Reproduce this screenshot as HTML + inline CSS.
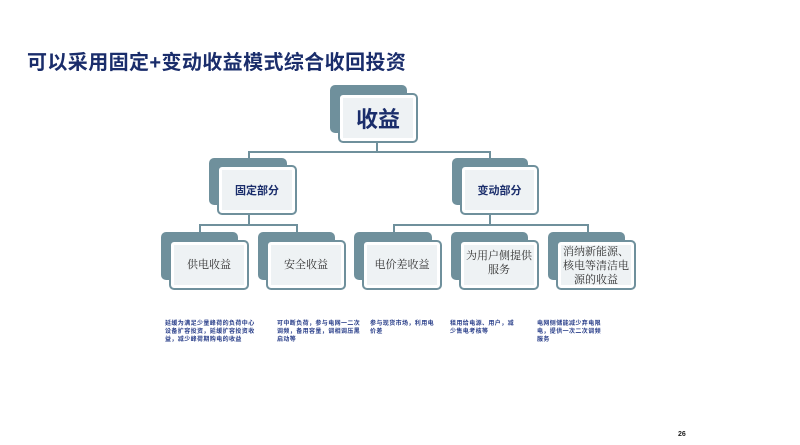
<!DOCTYPE html>
<html><head><meta charset="utf-8"><style>
body{margin:0;width:800px;height:445px;background:#fff;position:relative;overflow:hidden;font-family:"Liberation Sans","Noto Sans CJK SC",sans-serif;}
.a{position:absolute}
.bk{position:absolute;background:#6f909c;border-radius:5px}
.fr{position:absolute;background:#eef2f4;border:2px solid #6f909c;border-radius:5px;box-sizing:border-box;display:flex;align-items:center;justify-content:center;text-align:center;box-shadow:inset 0 0 0 3px #fff}
.ln{position:absolute;background:#6f909c}
.leaf{font-family:"Liberation Serif","Noto Serif CJK SC",serif;font-size:11px;color:#333;line-height:14px}
.mid{font-size:11px;font-weight:bold;color:#1a2d6b}
.note{position:absolute;font-size:6px;font-weight:bold;color:#2a3f8a;line-height:8px;letter-spacing:0.4px}
</style></head><body>
<div class="a" style="left:27px;top:46px;font-size:20px;font-weight:bold;color:#1a2d6b;letter-spacing:0.4px">可以采用固定+变动收益模式综合收回投资</div>

<div class="ln" style="left:376px;top:140px;width:2px;height:13px"></div>
<div class="ln" style="left:248px;top:151px;width:243px;height:2px"></div>
<div class="ln" style="left:248px;top:151px;width:2px;height:10px"></div>
<div class="ln" style="left:489px;top:151px;width:2px;height:10px"></div>
<div class="ln" style="left:248px;top:213px;width:2px;height:12px"></div>
<div class="ln" style="left:199px;top:224px;width:99px;height:2px"></div>
<div class="ln" style="left:199px;top:224px;width:2px;height:10px"></div>
<div class="ln" style="left:296px;top:224px;width:2px;height:10px"></div>
<div class="ln" style="left:489px;top:213px;width:2px;height:12px"></div>
<div class="ln" style="left:393px;top:224px;width:196px;height:2px"></div>
<div class="ln" style="left:393px;top:224px;width:2px;height:10px"></div>
<div class="ln" style="left:587px;top:224px;width:2px;height:10px"></div>

<div class="bk" style="left:330px;top:85px;width:77px;height:48px"></div>
<div class="fr" style="left:338px;top:93px;width:80px;height:50px;font-size:22px;font-weight:bold;color:#1a2d6b">收益</div>

<div class="bk" style="left:209px;top:158px;width:78px;height:47px"></div>
<div class="fr mid" style="left:217px;top:165px;width:80px;height:50px">固定部分</div>
<div class="bk" style="left:452px;top:158px;width:76px;height:47px"></div>
<div class="fr mid" style="left:460px;top:165px;width:79px;height:50px">变动部分</div>

<div class="bk" style="left:161px;top:232px;width:77px;height:48px"></div>
<div class="fr leaf" style="left:169px;top:240px;width:80px;height:50px">供电收益</div>
<div class="bk" style="left:258px;top:232px;width:77px;height:48px"></div>
<div class="fr leaf" style="left:266px;top:240px;width:80px;height:50px">安全收益</div>
<div class="bk" style="left:354px;top:232px;width:78px;height:48px"></div>
<div class="fr leaf" style="left:362px;top:240px;width:80px;height:50px">电价差收益</div>
<div class="bk" style="left:451px;top:232px;width:77px;height:48px"></div>
<div class="fr leaf" style="left:459px;top:240px;width:80px;height:50px;align-items:flex-start;padding-top:7px">为用户侧提供<br>服务</div>
<div class="bk" style="left:548px;top:232px;width:77px;height:48px"></div>
<div class="fr leaf" style="left:556px;top:240px;width:80px;height:50px;align-items:flex-start;padding-top:3px">消纳新能源、<br>核电等清洁电<br>源的收益</div>

<div class="note" style="left:165px;top:320px;width:95px">延缓为满足少量峰荷的负荷中心设备扩容投资，延缓扩容投资收益，减少峰荷期购电的收益</div>
<div class="note" style="left:277px;top:320px;width:88px">可中断负荷，参与电网一二次调频，备用容量，调相调压黑启动等</div>
<div class="note" style="left:370px;top:320px;width:68px">参与现货市场，利用电价差</div>
<div class="note" style="left:450px;top:320px;width:70px">租用给电源、用户，减少售电考核等</div>
<div class="note" style="left:537px;top:320px;width:64px">电网侧储能减少弃电限电，提供一次二次调频服务</div>

<div class="a" style="left:678px;top:431px;font-size:7px;font-weight:bold;color:#222">26</div>
</body></html>
